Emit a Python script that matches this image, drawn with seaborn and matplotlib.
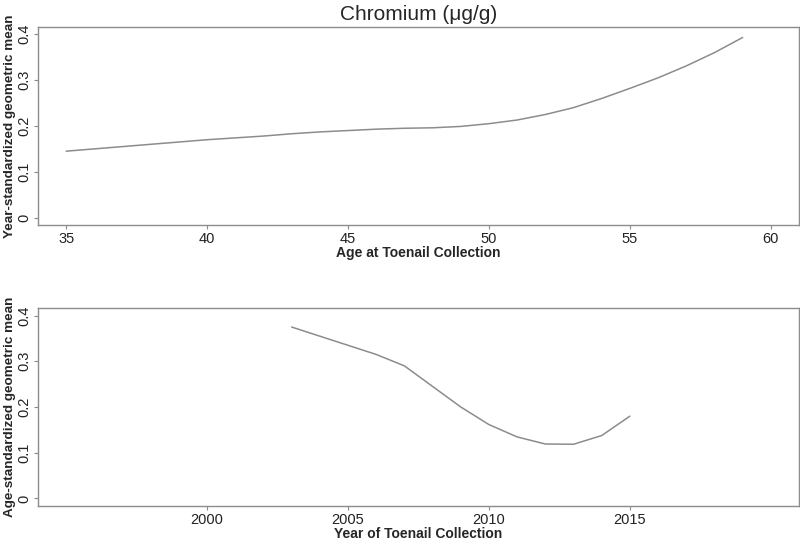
import numpy as np
import pandas as pd
import matplotlib
matplotlib.use("Agg")
import matplotlib.pyplot as plt
import seaborn as sns

# --- Datos ---
ages = list(range(35, 60))
age_gm = [0.145, 0.150, 0.155, 0.160, 0.165, 0.170, 0.174, 0.178, 0.183, 0.187,
          0.190, 0.193, 0.195, 0.196, 0.199, 0.205, 0.213, 0.225, 0.240, 0.260,
          0.282, 0.305, 0.331, 0.360, 0.393]

years = list(range(2003, 2016))
year_gm = [0.375, 0.355, 0.335, 0.315, 0.290, 0.245, 0.200, 0.1615, 0.1345,
           0.119, 0.1185, 0.1375, 0.180]

TITLE = "Chromium (\u03bcg/g)"
GREY = "#8c8c8c"

sns.set_style("white")
plt.rcParams['font.family'] = ['Liberation Sans', 'DejaVu Sans']

df_age = pd.DataFrame({"age": ages, "gm": age_gm})
df_year = pd.DataFrame({"year": years, "gm": year_gm})

fig = plt.figure(figsize=(8, 5.39), dpi=100)
ax1 = fig.add_axes([0.0475, 0.5826, 0.95125, 0.3674])
ax2 = fig.add_axes([0.0475, 0.0618, 0.95125, 0.3662])

sns.lineplot(data=df_age, x="age", y="gm", color=GREY, lw=1.1, ax=ax1)
sns.lineplot(data=df_year, x="year", y="gm", color=GREY, lw=1.1, ax=ax2)

ax1.set_xlim(34, 61)
ax1.set_xticks([35, 40, 45, 50, 55, 60])
ax2.set_xlim(1994, 2021)
ax2.set_xticks([2000, 2005, 2010, 2015])

for ax in (ax1, ax2):
    ax.set_ylim(-0.016, 0.416)
    ax.set_yticks([0, 0.1, 0.2, 0.3, 0.4])
    ax.set_yticklabels(["0", "0.1", "0.2", "0.3", "0.4"], rotation=90, va="center")
    ax.tick_params(axis="both", direction="out", length=3, width=0.8, color=GREY,
                   labelsize=10.5, labelcolor="#222222", pad=2, bottom=True, left=True)
    for sp in ax.spines.values():
        sp.set_color(GREY)
        sp.set_linewidth(1.0)

ax1.set_xlabel("Age at Toenail Collection", fontsize=10, fontweight="bold", labelpad=0)
ax1.set_ylabel("Year-standardized geometric mean", fontsize=9.7, fontweight="bold", labelpad=1)
ax2.set_xlabel("Year of Toenail Collection", fontsize=10, fontweight="bold", labelpad=0)
ax2.set_ylabel("Age-standardized geometric mean", fontsize=9.7, fontweight="bold", labelpad=1)
ax1.set_title(TITLE, fontsize=15, pad=5)

fig.savefig("out.png", dpi=100)
